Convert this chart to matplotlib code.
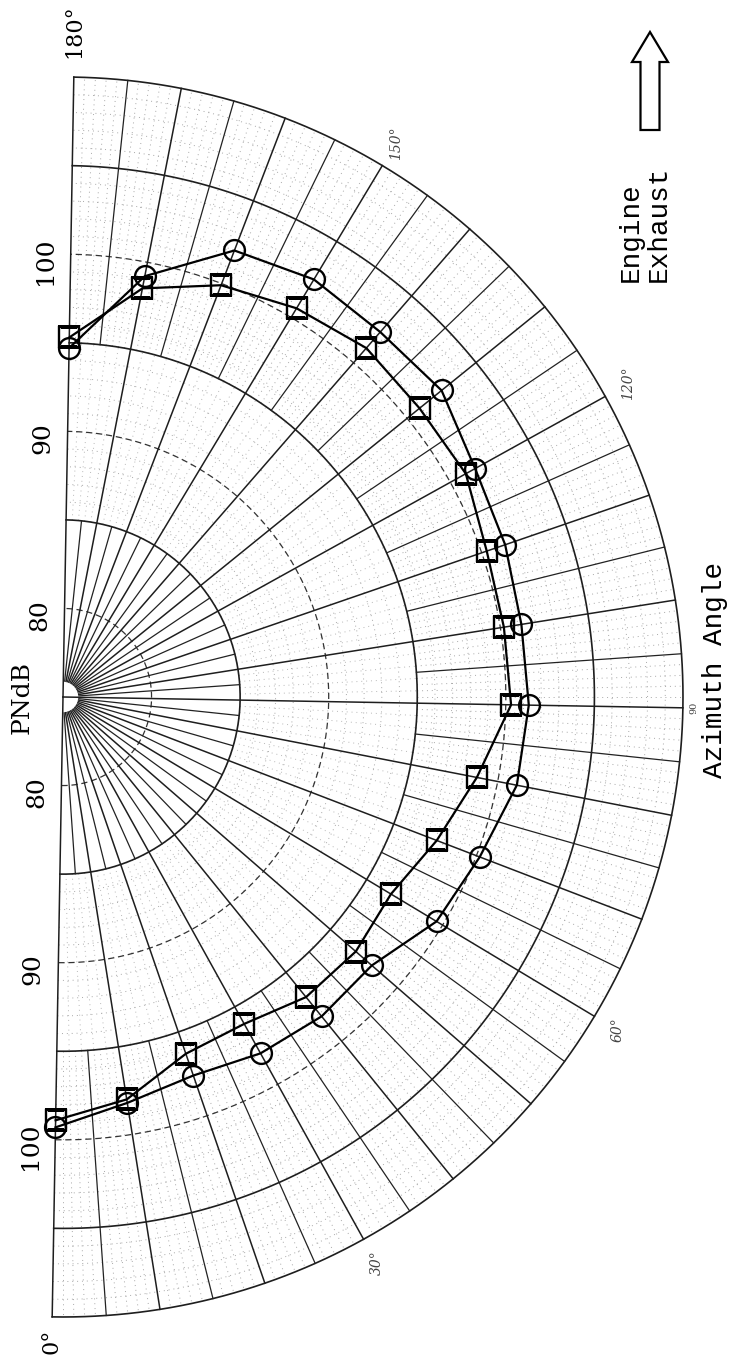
import numpy as np
import matplotlib
matplotlib.use("Agg")
import matplotlib.pyplot as plt
from matplotlib.patches import FancyArrow

# azimuth angle (deg) and perceived noise level (PNdB)
angles = [0, 10, 20, 30, 40, 50, 60, 70, 80, 90,
          100, 110, 120, 130, 140, 150, 160, 170, 180]
circle_pndb = [99.3, 98.2, 97.6, 98.0, 98.2, 98.1, 99.6, 100.2, 101.1, 101.3,
               101.2, 101.4, 101.6, 102.5, 102.3, 102.5, 102.0, 99.2, 94.7]
square_pndb = [98.9, 98.0, 96.3, 96.1, 96.8, 96.9, 96.6, 97.6, 98.8, 100.3,
               100.2, 100.3, 101.0, 100.9, 101.1, 100.6, 99.9, 98.5, 95.3]

r_labels = [80, 90, 100]
angle_labels = [30, 60, 120, 150]

W, H = 730, 1358
cx, cy = 63, 697          # pole position in pixels (from top left)
r_max_px = 637.7          # pixels for r = 111

fig = plt.figure(figsize=(W / 100, H / 100), dpi=100)
ax = fig.add_axes([(cx - r_max_px) / W, (H - cy - r_max_px) / H,
                   2 * r_max_px / W, 2 * r_max_px / H], projection='polar')
ax.set_theta_zero_location('S', offset=-1.0)
ax.set_theta_direction(1)
ax.set_ylim(75, 111)
ax.set_axis_off()

th = np.radians(np.linspace(0, 180, 361))

# minor dotted grid
for r in range(86, 110):
    if r % 5:
        ax.plot(th, np.full_like(th, r), color='#a8a8a8', lw=0.7, ls=(0, (1, 4)))
for a in range(1, 180):
    if a % 5 == 0:
        continue
    ax.plot(np.radians([a, a]), [95, 110], color='#a8a8a8', lw=0.7, ls=(0, (1, 4)))
    if a % 2 == 0:
        ax.plot(np.radians([a, a]), [85, 95], color='#b8b8b8', lw=0.7, ls=(0, (1, 4)))

# major circles
for r in [85, 95, 105, 110]:
    ax.plot(th, np.full_like(th, r), color='#1e1e1e', lw=1.2)
for r in [80, 90, 100]:
    ax.plot(th, np.full_like(th, r), color='#333333', lw=0.9, ls=(0, (5, 3)))

# radial lines
for a in range(0, 181, 10):
    r0 = 75 if a in (0, 90, 180) else 75.9
    ax.plot(np.radians([a, a]), [r0, 110], color='#1e1e1e', lw=1.1)
for a in range(5, 180, 10):
    ax.plot(np.radians([a, a]), [75.9, 85], color='#222222', lw=0.9)
    ax.plot(np.radians([a, a]), [95, 110], color='#222222', lw=0.9)

# data
t = np.radians(angles)
ax.plot(t, circle_pndb, color='black', lw=1.6, marker='o', ms=15,
        mfc='none', mec='black', mew=1.7, zorder=5)
ax.plot(t, square_pndb, color='black', lw=1.6, marker='s', ms=14,
        mfc='none', mec='black', mew=1.7, zorder=5)

# radial scale labels along the diameter
for r in r_labels:
    for a in (0, 180):
        ax.annotate(str(r), xy=(np.radians(a), r), xytext=(-18, -5),
                    textcoords='offset points', rotation=90, ha='center',
                    va='center', fontsize=18, family='DejaVu Serif',
                    annotation_clip=False)

# azimuth labels
for a in angle_labels:
    ax.text(np.radians(a), 111.5, f'{a}°', rotation=90, ha='center',
            va='center', fontsize=10, style='italic', color='#444444',
            family='DejaVu Serif')
ax.text(np.radians(90), 110.6, '90', rotation=90, ha='center', va='center',
        fontsize=7, color='#444444', family='DejaVu Serif')
ax.text(np.radians(180), 112.6, '180°', rotation=90, ha='center', va='center',
        fontsize=16, family='DejaVu Serif')
ax.text(np.radians(0), 111.4, '0°', rotation=90, ha='center', va='center',
        fontsize=16, family='DejaVu Serif')

# page annotations in pixel coordinates
ov = fig.add_axes([0, 0, 1, 1])
ov.set_xlim(0, W)
ov.set_ylim(H, 0)
ov.set_axis_off()
ov.patch.set_alpha(0)

ov.text(22, 698, 'PNdB', rotation=90, ha='center', va='center',
        fontsize=18, family='DejaVu Serif')
ov.text(715, 670, 'Azimuth Angle', rotation=90, ha='center', va='center',
        fontsize=20, family='Liberation Mono')
ov.text(645, 224, 'Engine\nExhaust', rotation=90, ha='center', va='center',
        multialignment='left', fontsize=20, family='Liberation Mono',
        linespacing=1.1)
ov.add_patch(FancyArrow(650, 130, 0, -98, width=19, head_width=36,
                        head_length=30, length_includes_head=True,
                        fill=False, ec='black', lw=1.6))

fig.savefig('out.png', dpi=100)
